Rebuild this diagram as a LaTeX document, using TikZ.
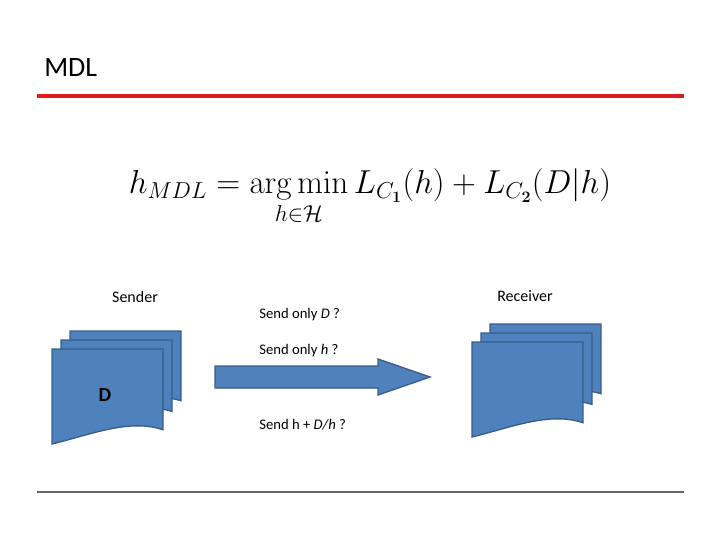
\documentclass[tikz,border=0pt]{standalone}
\usepackage{amsmath}
\usepackage[no-math]{fontspec}
\setmainfont{Carlito}
\begin{document}
\begin{tikzpicture}[x=0.75pt,y=-0.75pt,
  docfill/.style={fill=docblue,draw=docedge,line width=1pt},
  lbl/.style={anchor=west,inner sep=0pt,font=\fontsize{11}{13}\selectfont}]
\definecolor{docblue}{HTML}{4F81BD}
\definecolor{docedge}{HTML}{385D8A}
\definecolor{titlered}{HTML}{E01B1B}
\useasboundingbox (0,0) rectangle (720,540);
\newcommand{\docpage}[4]{% x y w h
  \path[docfill] (#1,#2) -- ++(#3,0) -- ++(0,{#4*0.85})
   .. controls ++({-#3*0.3},{-#4*0.12}) and ++({#3*0.35},{-#4*0.1}) .. ({#1},{#2+#4}) -- cycle;}
% title
\node[anchor=west,inner sep=0pt,font=\fontsize{21}{25}\selectfont] (title) at (44,68) {MDL};
\draw[titlered,line width=3pt] (37,96) coordinate (r1) -- (684,96) coordinate (r2);
% formula
\node[font=\fontsize{26}{31}\selectfont,anchor=north] (f) at (370,164) {$\displaystyle h_{MDL} = \mathop{\mathrm{arg\,min}}\limits_{h\in\mathcal{H}} L_{C_{\mathbf{1}}}(h) + L_{C_{\mathbf{2}}}(D|h)$};
% labels
\node[font=\fontsize{12}{14}\selectfont] (snd) at (135,297) {Sender};
\node[font=\fontsize{12}{14}\selectfont] (rcv) at (525,296) {Receiver};
\node[lbl] (t1) at (259,315) {Send only \textit{D} ?};
\node[lbl] (t2) at (259,351) {Send only \textit{h} ?};
\node[lbl] (t3) at (259,425) {Send h + \textit{D/h} ?};
% sender docs
\docpage{70}{331}{111}{82}
\docpage{61}{340}{111}{84}
\docpage{52}{349}{111}{95}
\node[font=\bfseries\fontsize{15}{18}\selectfont] (D) at (105,395) {D};
% receiver docs
\docpage{490}{324}{111}{82}
\docpage{481}{333}{111}{84}
\docpage{472}{342}{111}{95}
% arrow
\path[docfill] (215,366) -- (378,366) -- (378,359) -- (430,377) -- (378,395) -- (378,388) -- (215,388) -- cycle;
\node[inner sep=0pt] (arr) at (320,377) {};
% bottom line
\draw[gray!80!black,line width=0.8pt] (37,492) coordinate (b1) -- (684,492) coordinate (b2);
\end{tikzpicture}
\end{document}
